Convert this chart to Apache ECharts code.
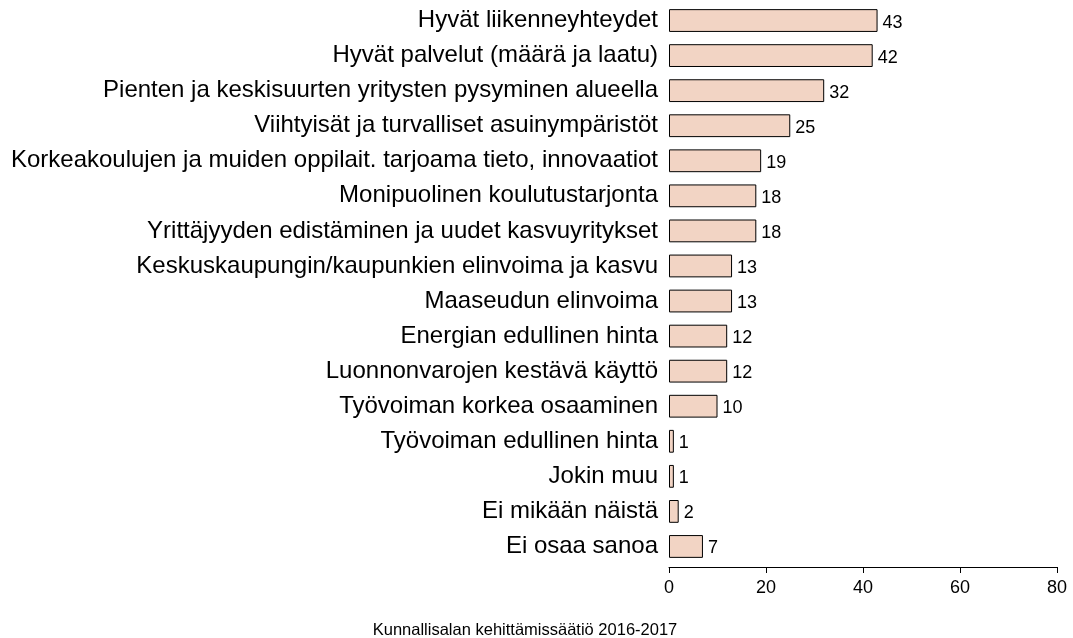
<!DOCTYPE html>
<html><head><meta charset="utf-8">
<script src="https://cdn.jsdelivr.net/npm/echarts@6/dist/echarts.min.js"></script>
<style>html,body{margin:0;padding:0;background:#fff}#c{width:1073px;height:638px}</style>
</head><body><div id="c"></div>
<script>
const categories = [
  "Hyvät liikenneyhteydet",
  "Hyvät palvelut (määrä ja laatu)",
  "Pienten ja keskisuurten yritysten pysyminen alueella",
  "Viihtyisät ja turvalliset asuinympäristöt",
  "Korkeakoulujen ja muiden oppilait. tarjoama tieto, innovaatiot",
  "Monipuolinen koulutustarjonta",
  "Yrittäjyyden edistäminen ja uudet kasvuyritykset",
  "Keskuskaupungin/kaupunkien elinvoima ja kasvu",
  "Maaseudun elinvoima",
  "Energian edullinen hinta",
  "Luonnonvarojen kestävä käyttö",
  "Työvoiman korkea osaaminen",
  "Työvoiman edullinen hinta",
  "Jokin muu",
  "Ei mikään näistä",
  "Ei osaa sanoa"
];
const values = [43, 42, 32, 25, 19, 18, 18, 13, 13, 12, 12, 10, 1, 1, 2, 7];
const xTicks = [0, 20, 40, 60, 80];
const footer = "Kunnallisalan kehittämissäätiö 2016-2017";

const chart = echarts.init(document.getElementById('c'));
const font = 'Liberation Sans, Arial, sans-serif';
chart.setOption({
  animation: false,
  textStyle: {fontFamily: font},
  title: {
    text: footer, left: 520, top: 617, textAlign: 'center',
    textStyle: {fontFamily: font, fontSize: 16.5, fontWeight: 'normal', color: '#000'}
  },
  grid: {left: 669, right: 16, top: 3, bottom: 74, containLabel: false},
  xAxis: {
    type: 'value', min: xTicks[0], max: xTicks[xTicks.length - 1], interval: 20,
    offset: 3,
    axisLine: {show: true, lineStyle: {color: '#000', width: 1}},
    axisTick: {show: true, length: 6, lineStyle: {color: '#000'}},
    axisLabel: {color: '#000', fontSize: 18, margin: 12, fontFamily: font},
    splitLine: {show: false}
  },
  yAxis: {
    type: 'category', data: categories, inverse: true,
    axisLine: {show: false}, axisTick: {show: false},
    axisLabel: {color: '#000', fontSize: 24, margin: 11, fontFamily: font}
  },
  series: [{
    type: 'bar', data: values, barCategoryGap: '35%',
    itemStyle: {color: '#F2D4C4', borderColor: '#000', borderWidth: 1},
    label: {show: true, position: 'right', distance: 5, offset: [0, 2], color: '#000', fontSize: 18, fontFamily: font}
  }]
});
</script></body></html>
